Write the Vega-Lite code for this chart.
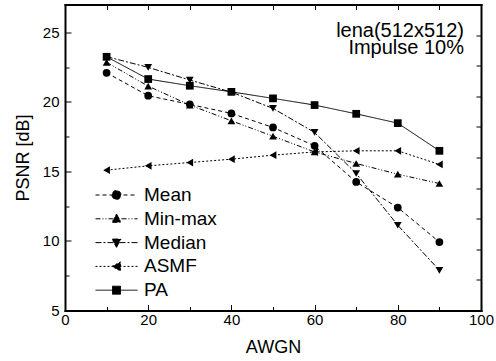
{
  "$schema": "https://vega.github.io/schema/vega-lite/v6.json",
  "width": 416,
  "height": 306,
  "autosize": {"type": "none"},
  "padding": {"left": 65, "top": 4.5, "right": 15, "bottom": 50.5},
  "background": "white",
  "config": {
    "view": {"stroke": null},
    "font": "Liberation Sans",
    "axis": {"grid": false, "domainColor": "black", "domainWidth": 2, "domainCap": "square", "tickColor": "black", "tickWidth": 1, "labelColor": "black", "titleColor": "black", "labelFont": "Liberation Sans", "titleFont": "Liberation Sans", "labelFontSize": 15, "titleFontSize": 18, "titleFontWeight": "normal", "labelFlush": false, "labelOverlap": false},
    "point": {"filled": true, "color": "black", "opacity": 1, "size": 60}
  },
  "title": {
    "text": ["lena(512x512)", "Impulse 10%"],
    "orient": "top",
    "anchor": "end",
    "frame": "group",
    "align": "right",
    "baseline": "top",
    "offset": -54,
    "dx": -17,
    "font": "Liberation Sans",
    "fontSize": 20,
    "fontWeight": "normal",
    "lineHeight": 17,
    "color": "black"
  },
  "data": {
    "values": [
      {"method": "Mean", "awgn": 10, "psnr": 22.09},
      {"method": "Mean", "awgn": 20, "psnr": 20.44},
      {"method": "Mean", "awgn": 30, "psnr": 19.82},
      {"method": "Mean", "awgn": 40, "psnr": 19.17},
      {"method": "Mean", "awgn": 50, "psnr": 18.16},
      {"method": "Mean", "awgn": 60, "psnr": 16.84},
      {"method": "Mean", "awgn": 70, "psnr": 14.24},
      {"method": "Mean", "awgn": 80, "psnr": 12.4},
      {"method": "Mean", "awgn": 90, "psnr": 9.92},
      {"method": "Min-max", "awgn": 10, "psnr": 22.84},
      {"method": "Min-max", "awgn": 20, "psnr": 21.13},
      {"method": "Min-max", "awgn": 30, "psnr": 19.77},
      {"method": "Min-max", "awgn": 40, "psnr": 18.64},
      {"method": "Min-max", "awgn": 50, "psnr": 17.53},
      {"method": "Min-max", "awgn": 60, "psnr": 16.4},
      {"method": "Min-max", "awgn": 70, "psnr": 15.57},
      {"method": "Min-max", "awgn": 80, "psnr": 14.8},
      {"method": "Min-max", "awgn": 90, "psnr": 14.13},
      {"method": "Median", "awgn": 10, "psnr": 23.25},
      {"method": "Median", "awgn": 20, "psnr": 22.48},
      {"method": "Median", "awgn": 30, "psnr": 21.57},
      {"method": "Median", "awgn": 40, "psnr": 20.7},
      {"method": "Median", "awgn": 50, "psnr": 19.53},
      {"method": "Median", "awgn": 60, "psnr": 17.8},
      {"method": "Median", "awgn": 70, "psnr": 14.85},
      {"method": "Median", "awgn": 80, "psnr": 11.13},
      {"method": "Median", "awgn": 90, "psnr": 7.89},
      {"method": "ASMF", "awgn": 10, "psnr": 15.09},
      {"method": "ASMF", "awgn": 20, "psnr": 15.4},
      {"method": "ASMF", "awgn": 30, "psnr": 15.64},
      {"method": "ASMF", "awgn": 40, "psnr": 15.88},
      {"method": "ASMF", "awgn": 50, "psnr": 16.17},
      {"method": "ASMF", "awgn": 60, "psnr": 16.4},
      {"method": "ASMF", "awgn": 70, "psnr": 16.48},
      {"method": "ASMF", "awgn": 80, "psnr": 16.48},
      {"method": "ASMF", "awgn": 90, "psnr": 15.5},
      {"method": "PA", "awgn": 10, "psnr": 23.24},
      {"method": "PA", "awgn": 20, "psnr": 21.64},
      {"method": "PA", "awgn": 30, "psnr": 21.16},
      {"method": "PA", "awgn": 40, "psnr": 20.72},
      {"method": "PA", "awgn": 50, "psnr": 20.25},
      {"method": "PA", "awgn": 60, "psnr": 19.77},
      {"method": "PA", "awgn": 70, "psnr": 19.14},
      {"method": "PA", "awgn": 80, "psnr": 18.47},
      {"method": "PA", "awgn": 90, "psnr": 16.48}
    ]
  },
  "layer": [
    {
      "mark": {"type": "line", "color": "black", "strokeWidth": 1},
      "encoding": {
        "x": {
          "field": "awgn", "type": "quantitative",
          "scale": {"domain": [0, 100], "nice": false, "zero": false},
          "axis": {
            "orient": "bottom", "title": "AWGN",
            "values": [0, 10, 20, 30, 40, 50, 60, 70, 80, 90, 100],
            "labelExpr": "datum.value % 20 === 0 ? datum.label : ''",
            "tickSize": {"condition": {"test": "datum.value % 20 === 0", "value": -6}, "value": -4},
            "labelPadding": 8,
            "titlePadding": 9
          }
        },
        "y": {
          "field": "psnr", "type": "quantitative",
          "scale": {"domain": [5, 27], "nice": false, "zero": false},
          "axis": {
            "orient": "left", "title": "PSNR [dB]",
            "values": [5, 7.5, 10, 12.5, 15, 17.5, 20, 22.5, 25],
            "labelExpr": "datum.value % 5 === 0 ? datum.label : ''",
            "tickSize": {"condition": {"test": "datum.value % 5 === 0", "value": -6}, "value": -4},
            "labelPadding": 12,
            "titlePadding": 10
          }
        },
        "strokeDash": {
          "field": "method", "type": "nominal",
          "scale": {
            "domain": ["Mean", "Min-max", "Median", "ASMF", "PA"],
            "range": [[4, 3], [5, 2, 1, 2, 1, 2], [6, 2, 2, 2], [2, 2], [1, 0]]
          },
          "legend": {
            "title": null,
            "orient": "none",
            "legendX": 26,
            "legendY": 181,
            "padding": 0,
            "symbolSize": 100,
            "symbolStrokeWidth": 1,
            "symbolStrokeColor": "black",
            "symbolFillColor": "black",
            "symbolOpacity": 1,
            "labelFont": "Liberation Sans",
            "labelFontSize": 19,
            "labelColor": "black",
            "labelOffset": 34,
            "rowPadding": 3.8,
            "labelLimit": 200,
            "encode": {
              "symbols": {
                "update": {
                  "fill": {"value": "black"},
                  "stroke": {"value": "black"},
                  "opacity": {"value": 1},
                  "shape": {"signal": "datum.value === 'Mean' ? 'M-1,0H7.4M2.3,0A0.9,0.9 0 1,0 4.1,0A0.9,0.9 0 1,0 2.3,0Z' : datum.value === 'Min-max' ? 'M-1,0H7.4M3.2,-0.95L4.1,0.7L2.3,0.7Z' : datum.value === 'Median' ? 'M-1,0H7.4M3.2,0.95L4.1,-0.7L2.3,-0.7Z' : datum.value === 'ASMF' ? 'M-1,0H7.4M2.3,0L4.0,-0.9L4.0,0.9Z' : 'M-1,0H7.4M2.4,-0.8H4.0V0.8H2.4Z'"}
                }
              }
            }
          }
        }
      }
    },
    {
      "transform": [{"filter": "datum.method === 'Mean'"}],
      "mark": {"type": "point", "shape": "circle"},
      "encoding": {
        "x": {
          "field": "awgn", "type": "quantitative",
          "axis": {"orient": "top", "title": null, "labels": false, "values": [10, 20, 30, 40, 50, 60, 70, 80, 90], "tickSize": -5}
        },
        "y": {
          "field": "psnr", "type": "quantitative",
          "axis": {"orient": "right", "title": null, "labels": false, "values": [7.2, 9.4, 11.6, 13.8, 16, 18.2, 20.4, 22.6, 24.8], "tickSize": -5}
        }
      }
    },
    {
      "transform": [{"filter": "datum.method === 'Min-max'"}],
      "mark": {"type": "point", "shape": "triangle-up"},
      "encoding": {
        "x": {"field": "awgn", "type": "quantitative", "axis": null},
        "y": {"field": "psnr", "type": "quantitative", "axis": null}
      }
    },
    {
      "transform": [{"filter": "datum.method === 'Median'"}],
      "mark": {"type": "point", "shape": "triangle-down"},
      "encoding": {
        "x": {"field": "awgn", "type": "quantitative", "axis": null},
        "y": {"field": "psnr", "type": "quantitative", "axis": null}
      }
    },
    {
      "transform": [{"filter": "datum.method === 'ASMF'"}],
      "mark": {"type": "point", "shape": "triangle-left"},
      "encoding": {
        "x": {"field": "awgn", "type": "quantitative", "axis": null},
        "y": {"field": "psnr", "type": "quantitative", "axis": null}
      }
    },
    {
      "transform": [{"filter": "datum.method === 'PA'"}],
      "mark": {"type": "point", "shape": "square"},
      "encoding": {
        "x": {"field": "awgn", "type": "quantitative", "axis": null},
        "y": {"field": "psnr", "type": "quantitative", "axis": null}
      }
    }
  ],
  "resolve": {"axis": {"x": "independent", "y": "independent"}}
}
